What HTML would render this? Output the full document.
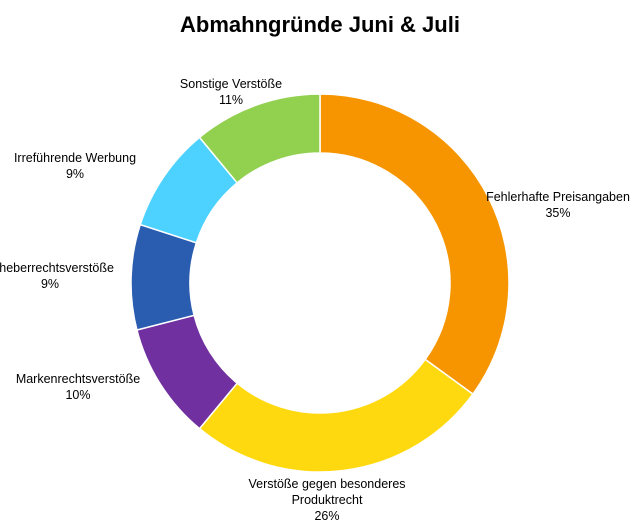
<!DOCTYPE html>
<html><head><meta charset="utf-8"><style>
body{margin:0;background:#fff;width:640px;height:524px;overflow:hidden;font-family:"Liberation Sans",sans-serif}
svg text{font-family:"Liberation Sans",sans-serif;fill:#000}
</style></head><body>
<svg id="chart" width="640" height="524" viewBox="0 0 640 524">
<text x="320" y="32" text-anchor="middle" font-size="22" font-weight="bold">Abmahngründe Juni &amp; Juli</text>
<g id="slices"></g><g id="labels"></g>
</svg>
<script>
const categories=["Fehlerhafte Preisangaben","Verstöße gegen besonderes Produktrecht","Markenrechtsverstöße","Urheberrechtsverstöße","Irreführende Werbung","Sonstige Verstöße"];
const values=[35,26,10,9,9,11];
const colors=["#F79500","#FFD90F","#7030A0","#2A5DB0","#4DD2FF","#92D050"];
const labelLines=[["Fehlerhafte Preisangaben"],["Verstöße gegen besonderes","Produktrecht"],["Markenrechtsverstöße"],["Urheberrechtsverstöße"],["Irreführende Werbung"],["Sonstige Verstöße"]];
const labelPos=[[558,201],[327,488],[78,383],[50,272],[75,162],[231,88]];
const cx=320,cy=283,R=189,r=130;
const NS="http://www.w3.org/2000/svg";
const total=values.reduce((a,b)=>a+b,0);
function pt(a,rad){return [cx+rad*Math.sin(a),cy-rad*Math.cos(a)];}
let a0=0;
const gS=document.getElementById('slices'),gL=document.getElementById('labels');
values.forEach((v,i)=>{
  const a1=a0+v/total*2*Math.PI,large=(a1-a0)>Math.PI?1:0;
  const [x0,y0]=pt(a0,R),[x1,y1]=pt(a1,R),[x2,y2]=pt(a1,r),[x3,y3]=pt(a0,r);
  const p=document.createElementNS(NS,'path');
  p.setAttribute('d',`M${x0},${y0}A${R},${R} 0 ${large} 1 ${x1},${y1}L${x2},${y2}A${r},${r} 0 ${large} 0 ${x3},${y3}Z`);
  p.setAttribute('fill',colors[i]);p.setAttribute('stroke','#fff');p.setAttribute('stroke-width','1.5');
  
  
  gS.appendChild(p);
  const t=document.createElementNS(NS,'text');
  t.setAttribute('text-anchor','middle');t.setAttribute('font-size','12.5');
  
  
  const lines=labelLines[i].concat([v+'%']);
  lines.forEach((s,j)=>{const ts=document.createElementNS(NS,'tspan');ts.setAttribute('x',labelPos[i][0]);ts.setAttribute('y',labelPos[i][1]+j*16);ts.textContent=s;t.appendChild(ts);});
  gL.appendChild(t);
  a0=a1;
});
</script>
</body></html>
